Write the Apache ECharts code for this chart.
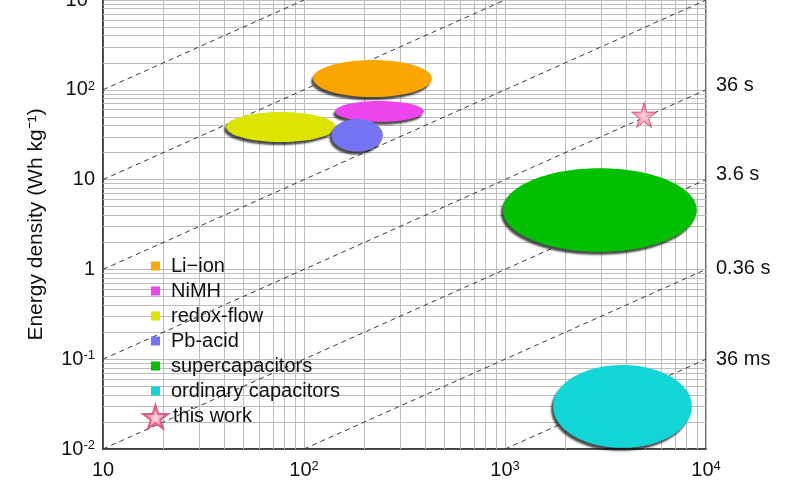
<!DOCTYPE html>
<html>
<head>
<meta charset="utf-8">
<script src="https://cdn.jsdelivr.net/npm/echarts@6/dist/echarts.min.js"></script>
<style>html,body{margin:0;padding:0;background:#fff}#c{width:800px;height:480px}</style>
</head>
<body>
<div id="c"></div>
<script>
// Regions: [Pmin, Pmax, Emin, Emax]  (power W/kg, energy Wh/kg)
var regionNames = ['Li\u2212ion', 'NiMH', 'redox-flow', 'Pb-acid', 'supercapacitors', 'ordinary capacitors'];
var regionColors = ['#fba500', '#ee44ee', '#dde400', '#7474f2', '#00c000', '#12d6d6'];
var liIon = [111, 433, 83, 215];
var nimh = [143, 395, 44, 75];
var redoxFlow = [41, 144, 26.2, 56.6];
var pbAcid = [137, 247, 20.5, 47.3];
var supercaps = [975, 9000, 1.57, 13.4];
var ordinaryCaps = [1734, 8511, 0.0103, 0.086];
var regions = [liIon, nimh, redoxFlow, pbAcid, supercaps, ordinaryCaps];

var thisWork = [[4920, 52.4]];

// constant-time lines: endpoints [P, E]
var timeLineNames = ['36 ms', '0.36 s', '3.6 s', '36 s', '360 s', '3600 s', '36000 s'];
var timeLinesPts = [
  [[1000, 0.01], [10000, 0.1]],
  [[100, 0.01], [10000, 1]],
  [[10, 0.01], [10000, 10]],
  [[10, 0.1], [10000, 100]],
  [[10, 1], [10000, 1000]],
  [[10, 10], [1000, 1000]],
  [[10, 100], [100, 1000]]
];
var labeledLines = ['36 ms', '0.36 s', '3.6 s', '36 s'];
var labelDy = { '36 ms': 0, '0.36 s': -1, '3.6 s': -5, '36 s': -4 };

var xTickLabels = ['10', '10{s|2}', '10{s|3}', '10{s|4}'];
var yTickLabels = ['10{s|-2}', '10{s|-1}', '1', '10', '10{s|2}', '10{s|3}'];

var minorMult = [2, 3, 4, 5, 6, 7, 8, 9];
var xDecades = [10, 100, 1000];
var yDecades = [0.01, 0.1, 1, 10, 100];

var FONT = '"Liberation Sans", Arial, sans-serif';
var FS = 20;

function expLabel(list, minExp) {
  return function (v) {
    var e = Math.round(Math.log10(v));
    return list[e - minExp] || '';
  };
}

var gridMarks = [];
xDecades.forEach(function (d) { minorMult.forEach(function (m) { gridMarks.push({ xAxis: d * m }); }); });
yDecades.forEach(function (d) { minorMult.forEach(function (m) { gridMarks.push({ yAxis: d * m }); }); });

var series = [];
series.push({
  type: 'line', name: 'grid', data: [], silent: true, z: 1,
  markLine: {
    silent: true, symbol: ['none', 'none'], animation: false, z: 1,
    label: { show: false },
    lineStyle: { color: '#bdbdbd', type: 'solid', width: 1 },
    data: gridMarks
  }
});

timeLinesPts.forEach(function (pts, i) {
  var nm = timeLineNames[i];
  series.push({
    type: 'line', name: nm, data: pts, showSymbol: false, silent: true, z: 2,
    lineStyle: { color: '#3a3a3a', type: [5, 4], width: 1 },
    endLabel: {
      show: labeledLines.indexOf(nm) >= 0,
      formatter: function () { return nm; },
      fontSize: FS, fontFamily: FONT, color: '#111',
      distance: 10, offset: [0, labelDy[nm] || 0]
    }
  });
});

regions.forEach(function (r, i) {
  series.push({
    type: 'custom', name: regionNames[i], z: 4,
    itemStyle: { color: regionColors[i] },
    data: [r],
    encode: { x: [0, 1], y: [2, 3] },
    renderItem: function (params, api) {
      var p0 = api.value(0), p1 = api.value(1), e0 = api.value(2), e1 = api.value(3);
      var pc = Math.sqrt(p0 * p1), ec = Math.sqrt(e0 * e1);
      var c = api.coord([pc, ec]);
      var l = api.coord([p0, ec]), rr = api.coord([p1, ec]);
      var t = api.coord([pc, e1]), b = api.coord([pc, e0]);
      return {
        type: 'ellipse',
        shape: { cx: c[0], cy: c[1], rx: (rr[0] - l[0]) / 2, ry: (b[1] - t[1]) / 2 },
        style: {
          fill: regionColors[i],
          shadowColor: 'rgba(0,0,0,0.7)', shadowBlur: 2, shadowOffsetX: -2, shadowOffsetY: 3
        }
      };
    }
  });
});

var starPath = 'path://M50,0 L61,35 L98,35 L68,57 L79,91 L50,70 L21,91 L32,57 L2,35 L39,35 Z';
series.push({
  type: 'scatter', name: 'this work', data: thisWork, z: 6,
  symbol: starPath, symbolSize: 25,
  itemStyle: {
    color: { type: 'radial', x: 0.5, y: 0.55, r: 0.6, colorStops: [{ offset: 0, color: '#ffd0dc' }, { offset: 0.6, color: '#f27898' }, { offset: 1, color: '#e04870' }] },
    borderColor: '#d64470', borderWidth: 1
  }
});

var supRich = { s: { fontSize: 13, fontFamily: FONT, color: '#111', verticalAlign: 'top' } };

var chart = echarts.init(document.getElementById('c'), null, { renderer: 'canvas' });
chart.setOption({
  animation: false,
  backgroundColor: '#fff',
  grid: {
    left: 103, right: 94, top: 0, bottom: 31, containLabel: false, outerBoundsMode: 'none',
    show: true, borderColor: '#333', borderWidth: 1.5, backgroundColor: 'transparent'
  },
  xAxis: {
    type: 'log', logBase: 10, min: 10, max: 10000,
    axisLine: { show: true, lineStyle: { color: '#333', width: 1.5 } },
    axisTick: { show: false },
    splitLine: { show: true, lineStyle: { color: '#bdbdbd', width: 1 } },
    axisLabel: {
      formatter: expLabel(xTickLabels, 1), margin: 11,
      fontSize: FS, lineHeight: 20, fontFamily: FONT, color: '#111',
      rich: supRich
    }
  },
  yAxis: {
    type: 'log', logBase: 10, min: 0.01, max: 1000,
    name: 'Energy density (Wh kg\u207B\u00B9)', nameLocation: 'middle', nameGap: 56,
    nameTextStyle: { fontSize: 21, fontFamily: FONT, color: '#111' },
    axisLine: { show: true, lineStyle: { color: '#333', width: 1.5 } },
    axisTick: { show: false },
    splitLine: { show: true, lineStyle: { color: '#bdbdbd', width: 1 } },
    axisLabel: {
      formatter: expLabel(yTickLabels, -2), margin: 8,
      fontSize: FS, lineHeight: 20, fontFamily: FONT, color: '#111',
      rich: supRich
    }
  },
  legend: [
    {
      data: regionNames.map(function (n) { return { name: n, icon: 'rect' }; }),
      orient: 'vertical', left: 146, top: 251,
      itemWidth: 9, itemHeight: 9, itemGap: 5,
      textStyle: { fontSize: FS, fontFamily: FONT, color: '#111', lineHeight: 20, padding: [0, 0, 0, 6] },
      selectedMode: false
    },
    {
      data: ['this work'],
      orient: 'vertical', left: 137, top: 399,
      itemWidth: 25, itemHeight: 25,
      textStyle: { fontSize: FS, fontFamily: FONT, color: '#111', padding: [0, 0, 0, 0] },
      selectedMode: false
    }
  ],
  series: series
});
</script>
</body>
</html>
